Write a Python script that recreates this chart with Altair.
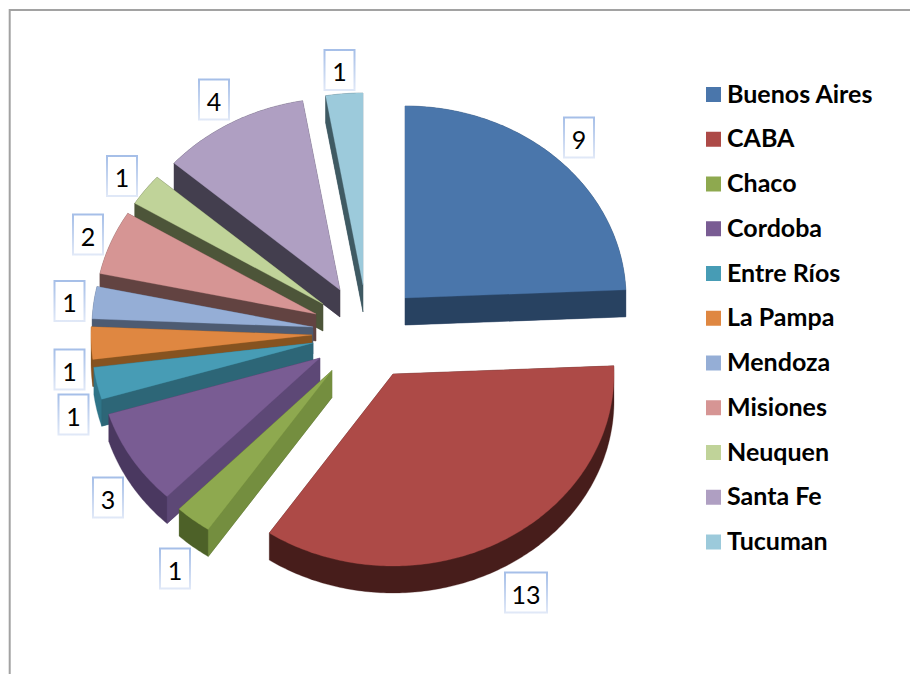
import math
import altair as alt
import pandas as pd

# ---- chart values
provinces = ["Buenos Aires", "CABA", "Chaco", "Cordoba", "Entre Ríos", "La Pampa",
             "Mendoza", "Misiones", "Neuquen", "Santa Fe", "Tucuman"]
counts = [9, 13, 1, 3, 1, 1, 1, 2, 1, 4, 1]

# ---- colours
top_colors = ["#4a76ab", "#ad4a47", "#8ea94f", "#795c93", "#479cb5", "#df8741",
              "#95aed6", "#d69594", "#c0d399", "#af9fc2", "#9ccadb"]
outer_colors = ["#284261", "#471d1b", "#4d6128", "#4a3860", "#2f7488", "#86521f",
                "#4d5b72", "#624341", "#4d5539", "#433e4e", "#3f5a63"]
side_colors = ["#284261", None, "#748e3f", "#5d4876", "#2d6677", "#865320",
               "#4d5b72", "#624341", "#4d5539", "#433e4e", "#3f5a63"]

# ---- layout of the exploded pie (picture pixels)
RX, RY, DEPTH = 221, 192, 27
tips = [(405, 298), (393, 374), (332, 370.5), (320, 358), (313, 343), (312, 335),
        (313, 327), (316, 314), (323, 304), (340, 290), (363, 285)]
draw_order = [10, 9, 8, 7, 6, 5, 4, 3, 2, 0, 1]
label_boxes = [(579, 137.5), (526, 592.5), (175, 568.5), (108, 497.5), (73.5, 414.5),
               (69.5, 369.5), (69.5, 301), (88, 234.5), (122, 176), (214, 99.5), (339.5, 70)]
LEGEND_X, LEGEND_Y0, LEGEND_STEP = 713.5, 94.5, 44.75


def hull(points):
    pts = sorted(set(points))
    def half(seq):
        out = []
        for p in seq:
            while len(out) > 1 and ((out[-1][0]-out[-2][0])*(p[1]-out[-2][1])
                                    - (out[-1][1]-out[-2][1])*(p[0]-out[-2][0])) <= 0:
                out.pop()
            out.append(p)
        return out[:-1]
    return half(pts) + half(pts[::-1])


total = sum(counts)
rows = []
poly_id = 0


def add(points, colour):
    global poly_id
    for k, (x, y) in enumerate(points):
        rows.append({"poly": poly_id, "k": k, "x": x, "y": y, "c": colour})
    poly_id += 1


starts = [sum(counts[:i]) / total * 2 * math.pi for i in range(len(counts))]
for i in draw_order:
    a0 = starts[i]
    a1 = a0 + counts[i] / total * 2 * math.pi
    cx, cy = tips[i]
    n = max(4, int(counts[i] * 12))
    arc = [(cx + RX * math.sin(a0 + (a1 - a0) * j / n),
            cy - RY * math.cos(a0 + (a1 - a0) * j / n)) for j in range(n + 1)]
    face = [(cx, cy)] + arc
    low = [(x, y + DEPTH) for x, y in face]
    add(hull(face + low), outer_colors[i])
    if side_colors[i]:
        e = arc[-1] if i == 0 else arc[0]
        add([(cx, cy), e, (e[0], e[1] + DEPTH), (cx, cy + DEPTH)], side_colors[i])
    add(face, top_colors[i])

SX = alt.Scale(domain=[8, 910], nice=False, zero=False)
SY = alt.Scale(domain=[674, 8], nice=False, zero=False)
X = alt.X("x:Q", scale=SX, axis=None)
Y = alt.Y("y:Q", scale=SY, axis=None)

pie = alt.Chart(pd.DataFrame(rows)).mark_line(strokeWidth=0.3, interpolate="linear-closed").encode(
    x=X, y=Y,
    detail="poly:N",
    order="k:Q",
    fill=alt.Fill("c:N", scale=None),
    stroke=alt.Stroke("c:N", scale=None),
)

frame_df = pd.DataFrame({"x": [9.7, 9.7, 910], "y": [674, 10, 10], "k": [0, 1, 2]})
frame = alt.Chart(frame_df).mark_line(color="#a2a2a2", strokeWidth=2).encode(x=X, y=Y, order="k:Q")

lab = pd.DataFrame({
    "x": [b[0] for b in label_boxes], "y": [b[1] for b in label_boxes], "t": counts,
    "w": [42 if c > 9 else 30 for c in counts],
})
lab["x0"] = lab.x - lab.w / 2
lab["x1"] = lab.x + lab.w / 2
lab["y0"] = lab.y - 20
lab["y1"] = lab.y + 20
box_stroke = alt.Gradient(gradient="linear", x1=0, x2=0, y1=0, y2=1,
                          stops=[alt.GradientStop(color="#a6bfe8", offset=0),
                                 alt.GradientStop(color="#e0e8f7", offset=1)])
boxes = alt.Chart(lab).mark_rect(fill="white", stroke=box_stroke, strokeWidth=2).encode(
    x=alt.X("x0:Q", scale=SX, axis=None), x2="x1:Q",
    y=alt.Y("y0:Q", scale=SY, axis=None), y2="y1:Q")
texts = alt.Chart(lab).mark_text(font="Lato", fontSize=25, color="black", align="center",
                                 baseline="middle", dy=3).encode(x=X, y=Y, text="t:N")

leg = pd.DataFrame({"name": provinces, "c": top_colors,
                    "y": [LEGEND_Y0 + LEGEND_STEP * i for i in range(len(provinces))]})
leg["x"] = LEGEND_X
leg["tx"] = LEGEND_X + 13.5
squares = alt.Chart(leg).mark_square(size=225, opacity=1).encode(
    x=X, y=Y, fill=alt.Fill("c:N", scale=None), stroke=alt.value(None))
names = alt.Chart(leg).mark_text(font="Lato", fontWeight="bold", fontSize=25, color="black",
                                 align="left", baseline="middle", dy=0).encode(
    x=alt.X("tx:Q", scale=SX, axis=None), y=Y, text="name:N")

chart = alt.layer(frame, pie, boxes, texts, squares, names).properties(
    width=902, height=666, padding=0, autosize=alt.AutoSizeParams(type="none"),
    background="white",
).configure_view(stroke=None)

chart.save("out.html", embed_options={"renderer": "svg", "actions": False})
